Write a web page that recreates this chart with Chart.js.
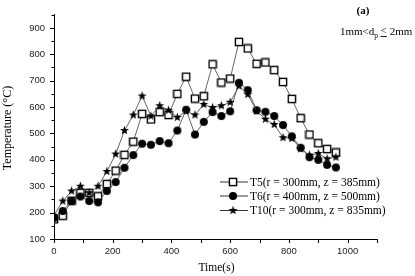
<!DOCTYPE html>
<html>
<head>
<meta charset="utf-8">
<script src="https://cdn.jsdelivr.net/npm/chart.js@4.4.1/dist/chart.umd.min.js"></script>
<style>
html,body{margin:0;padding:0;background:#fff;}
#wrap{width:415px;height:276px;position:relative;}
</style>
</head>
<body>
<div id="wrap"><canvas id="c"></canvas></div>
<script>
const times = [0,30,60,90,120,150,180,210,240,270,300,330,360,390,420,450,480,510,540,570,600,630,660,690,720,750,780,810,840,870,900,930,960];
const t5 = [175,188,245,275,275,262,308,359,419,469,574,553,581,570,650,715,632,641,762,693,708,847,822,764,769,740,695,631,558,496,463,441,428];
const t6 = [180,206,244,261,244,239,282,316,370,418,461,457,471,463,511,590,496,544,581,566,584,692,664,588,582,566,532,489,446,410,400,381,371];
const t10 = [190,244,282,300,275,300,356,422,511,570,642,566,605,588,561,585,570,610,598,605,618,680,648,585,554,534,484,481,442,418,424,404,410];
const seriesLabels = ['T5(r = 300mm, z = 385mm)','T6(r = 400mm, z = 500mm)','T10(r = 300mm, z = 835mm)'];
const xTickLabels = [0,200,400,600,800,1000];
const yTickLabels = [100,200,300,400,500,600,700,800,900];

function mk(w, draw){const c=document.createElement('canvas');c.width=w;c.height=w;const g=c.getContext('2d');draw(g,w/2);return c;}
const sqImg = mk(10,(g,m)=>{g.fillStyle='#fff';g.fillRect(1.4,1.4,7.2,7.2);g.strokeStyle='#000';g.lineWidth=1.4;g.strokeRect(1.4,1.4,7.2,7.2);});
const ciImg = mk(10,(g,m)=>{g.fillStyle='#000';g.beginPath();g.arc(m,m,4,0,Math.PI*2);g.fill();});
const stImg = mk(11,(g,m)=>{g.fillStyle='#000';g.beginPath();for(let i=0;i<10;i++){const r=i%2?2:4.7;const a=-Math.PI/2+i*Math.PI/5;const x=m+r*Math.cos(a),y=m+r*Math.sin(a);i?g.lineTo(x,y):g.moveTo(x,y);}g.closePath();g.fill();});
const imgs=[sqImg,ciImg,stImg];

function pts(arr){return arr.map((v,i)=>({x:times[i],y:v}));}

const AX = {left:54, right:377, top:3, bottom:239};

const deco = {
  id:'deco',
  afterDraw(chart){
    const g=chart.ctx, xs=chart.scales.x, ys=chart.scales.y;
    g.save();
    g.strokeStyle='#000';g.lineWidth=1;
    for(let v=0;v<=1100;v+=100){const x=Math.round(xs.getPixelForValue(v))+0.5;g.beginPath();g.moveTo(x,ys.bottom);g.lineTo(x,ys.bottom+4);g.stroke();}
    for(let v=100;v<=950;v+=50){const y=Math.round(ys.getPixelForValue(v))+0.5;const L=(v%100===0)?4:2.5;g.beginPath();g.moveTo(xs.left-L,y);g.lineTo(xs.left,y);g.stroke();}
    g.fillStyle='#000';
    g.font='11.5px "Liberation Serif"';g.textAlign='center';g.textBaseline='middle';
    g.fillText('Time(s)',(xs.left+xs.right)/2+1,268);
    g.save();g.translate(8,128);g.rotate(-Math.PI/2);g.font='12px "Liberation Serif"';g.fillText('Temperature (\u00B0C)',0,0);g.restore();
    const ly=[182,196,210.5];
    g.textAlign='left';g.font='11.5px "Liberation Serif"';
    for(let i=0;i<3;i++){
      g.strokeStyle='#333';g.lineWidth=1;g.beginPath();g.moveTo(220,ly[i]);g.lineTo(248,ly[i]);g.stroke();
      const im=imgs[i];g.drawImage(im,233-im.width/2,ly[i]-im.height/2);
      g.fillStyle='#000';g.fillText(seriesLabels[i],250,ly[i]+0.5);
    }
    g.font='bold 11px "Liberation Serif"';g.textAlign='center';
    g.fillText('(a)',363,11);
    g.font='11px "Liberation Serif"';g.textAlign='left';
    let x=340;const y=32;
    const s1='1mm<d';g.fillText(s1,x,y);x+=g.measureText(s1).width;
    g.font='7.5px "Liberation Serif"';g.fillText('p',x,y+4);x+=g.measureText('p').width+2.5;
    g.font='11px "Liberation Serif"';
    g.fillText('<',x,y-1);const lw=g.measureText('<').width;
    g.beginPath();g.lineWidth=0.9;g.strokeStyle='#000';g.moveTo(x,y+4.5);g.lineTo(x+lw,y+4.5);g.stroke();
    x+=lw+3;g.fillText('2mm',x,y);
    g.restore();
  }
};

const mkds=(i,data,ord)=>({label:seriesLabels[i],data:pts(data),borderColor:'#555',borderWidth:0.9,pointStyle:imgs[i],pointRadius:4,pointHoverRadius:4,order:ord,tension:0,fill:false});

new Chart(document.getElementById('c'),{
  type:'line',
  data:{datasets:[mkds(0,t5,3),mkds(1,t6,2),mkds(2,t10,1)]},
  options:{
    responsive:true,maintainAspectRatio:false,animation:false,
    layout:{padding:{left:0,right:415-AX.right,top:AX.top,bottom:0}},
    plugins:{legend:{display:false},tooltip:{enabled:false}},
    scales:{
      x:{type:'linear',min:0,max:1100,
        afterFit(s){s.height=276-AX.bottom;},
        grid:{display:true,drawOnChartArea:false,drawTicks:false},
        border:{display:true,color:'#000',width:1},
        ticks:{stepSize:100,padding:7,color:'#222',font:{family:'Arial, "Liberation Sans", sans-serif',size:9.5},
          callback:(v)=>xTickLabels.includes(v)?String(v):'' ,maxRotation:0,autoSkip:false}
      },
      y:{type:'linear',min:100,max:950,
        afterFit(s){s.width=AX.left;},
        grid:{display:true,drawOnChartArea:false,drawTicks:false},
        border:{display:true,color:'#000',width:1},
        ticks:{stepSize:50,padding:9,color:'#222',font:{family:'Arial, "Liberation Sans", sans-serif',size:9.5},
          callback:(v)=>yTickLabels.includes(v)?String(v):'',autoSkip:false}
      }
    }
  },
  plugins:[deco]
});
</script>
</body>
</html>
